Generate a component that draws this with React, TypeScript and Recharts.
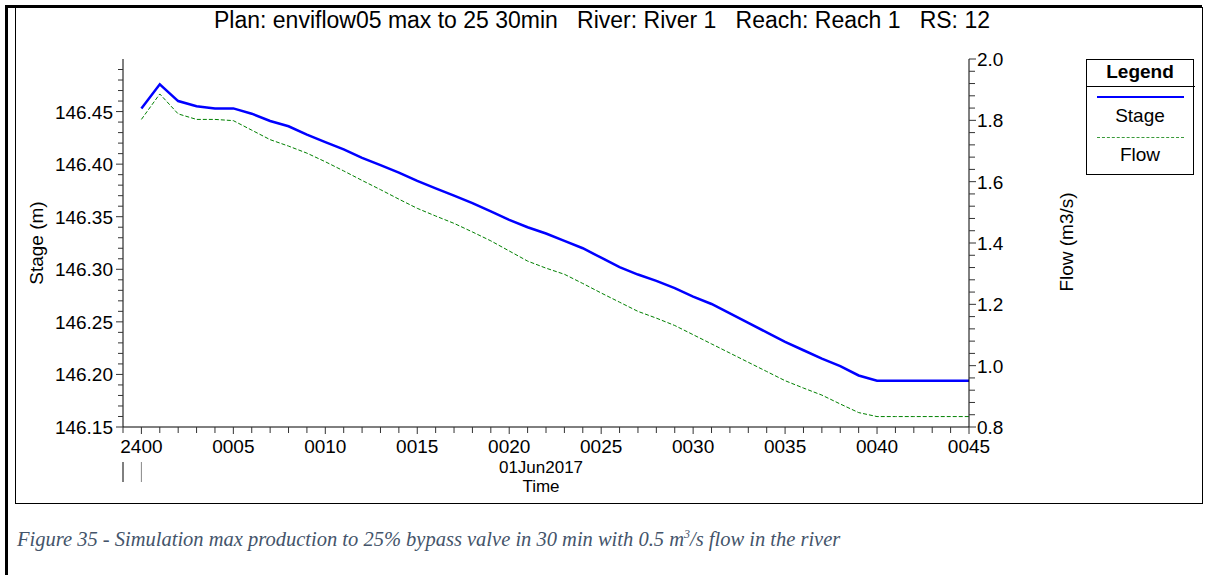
import React from "react";
import { LineChart, Line, XAxis, YAxis } from "recharts";

// time labels, one per minute, from 2400 to 0045
const times = [
  "2400", "0001", "0002", "0003", "0004", "0005", "0006", "0007", "0008", "0009",
  "0010", "0011", "0012", "0013", "0014", "0015", "0016", "0017", "0018", "0019",
  "0020", "0021", "0022", "0023", "0024", "0025", "0026", "0027", "0028", "0029",
  "0030", "0031", "0032", "0033", "0034", "0035", "0036", "0037", "0038", "0039",
  "0040", "0041", "0042", "0043", "0044", "0045",
];

const stage = [
  146.453, 146.476, 146.46, 146.455, 146.453, 146.453, 146.448, 146.441, 146.436, 146.428,
  146.421, 146.414, 146.406, 146.399, 146.392, 146.384, 146.377, 146.37, 146.363, 146.355,
  146.347, 146.34, 146.334, 146.327, 146.32, 146.311, 146.302, 146.295, 146.289, 146.282,
  146.274, 146.267, 146.258, 146.249, 146.24, 146.231, 146.223, 146.215, 146.208, 146.199,
  146.194, 146.194, 146.194, 146.194, 146.194, 146.194,
];

const flow = [
  1.803, 1.886, 1.821, 1.803, 1.803, 1.799, 1.768, 1.737, 1.716, 1.693,
  1.665, 1.635, 1.604, 1.574, 1.543, 1.513, 1.488, 1.464, 1.436, 1.407,
  1.374, 1.341, 1.318, 1.298, 1.268, 1.237, 1.207, 1.177, 1.155, 1.131,
  1.101, 1.071, 1.041, 1.011, 0.981, 0.951, 0.927, 0.904, 0.875, 0.847,
  0.834, 0.834, 0.834, 0.834, 0.834, 0.834,
];

const xTickLabels = ["2400", "0005", "0010", "0015", "0020", "0025", "0030", "0035", "0040", "0045"];
const stageTickLabels = ["146.15", "146.20", "146.25", "146.30", "146.35", "146.40", "146.45"];
const flowTickLabels = ["0.8", "1.0", "1.2", "1.4", "1.6", "1.8", "2.0"];

const data = times.map((t, i) => ({ i, t, stage: stage[i], flow: flow[i] }));

const FONT = "'Liberation Sans', Arial, sans-serif";

// minor ticks: every minute, every 0.01 m, every 0.04 m3/s
const xTicks: number[] = [];
for (let m = -1; m <= 45; m++) xTicks.push(m);
const leftTicks: number[] = [];
for (let k = 0; k < 35; k++) leftTicks.push(Math.round((146.15 + k * 0.01) * 100) / 100);
const rightTicks: number[] = [];
for (let k = 0; k <= 30; k++) rightTicks.push(Math.round((0.8 + k * 0.04) * 100) / 100);

const XTick = (props: any) => {
  const { x, y, payload } = props;
  const v = payload.value as number;
  const idx = xTickLabels.indexOf(times[v]);
  const major = v >= 0 && idx >= 0;
  return (
    <g>
      <line x1={x} x2={x} y1={y} y2={y + (major ? 7 : 6)} stroke="#333" />
      {major && (
        <text x={x} y={y + 26} textAnchor="middle" fontFamily={FONT} fontSize={19} fill="#000">
          {xTickLabels[idx]}
        </text>
      )}
      {v === -1 && <line x1={x} x2={x} y1={y + 35} y2={y + 55} stroke="#000" />}
      {v === 0 && <line x1={x} x2={x} y1={y + 35} y2={y + 55} stroke="#888" />}
    </g>
  );
};

const LeftTick = (props: any) => {
  const { x, y, payload } = props;
  const v = payload.value as number;
  const label = stageTickLabels.find((s) => Math.abs(parseFloat(s) - v) < 1e-6);
  return (
    <g>
      <line x1={x - (label ? 7 : 5)} x2={x} y1={y} y2={y} stroke="#333" />
      {label && (
        <text x={x - 10} y={y + 7} textAnchor="end" fontFamily={FONT} fontSize={19} fill="#000">
          {label}
        </text>
      )}
    </g>
  );
};

const RightTick = (props: any) => {
  const { x, y, payload } = props;
  const v = payload.value as number;
  const label = flowTickLabels.find((s) => Math.abs(parseFloat(s) - v) < 1e-6);
  return (
    <g>
      <line x1={x} x2={x + (label ? 7 : 6)} y1={y} y2={y} stroke="#333" />
      {label && (
        <text x={x + 8} y={y + 7} textAnchor="start" fontFamily={FONT} fontSize={19} fill="#000">
          {label}
        </text>
      )}
    </g>
  );
};

const abs = (s: React.CSSProperties): React.CSSProperties => ({ position: "absolute", ...s });

export default function App() {
  return (
    <div style={abs({ left: 0, top: 0, width: 1210, height: 575, background: "#fff", fontFamily: FONT })}>
      {/* frames */}
      <div style={abs({ left: 5, top: 5, width: 1197, height: 3, background: "#000" })} />
      <div style={abs({ left: 5, top: 5, width: 3, height: 570, background: "#000" })} />
      <div
        style={abs({
          left: 15,
          top: 7,
          width: 1186,
          height: 496,
          borderLeft: "1px solid #000",
          borderRight: "1px solid #000",
          borderBottom: "1px solid #000",
        })}
      />

      <div style={abs({ left: 0, top: 0 })}>
        <LineChart width={1210} height={575} data={data} margin={{ top: 59, left: 63, right: 181, bottom: 108 }}>
          <XAxis
            dataKey="i"
            type="number"
            domain={[-1, 45]}
            ticks={xTicks}
            interval={0}
            tickSize={0}
            tickMargin={0}
            tick={XTick}
            height={40}
            stroke="#000"
          />
          <YAxis
            yAxisId="left"
            orientation="left"
            type="number"
            domain={[146.15, 146.5]}
            ticks={leftTicks}
            interval={0}
            tickSize={0}
            tickMargin={0}
            tick={LeftTick}
            width={60}
            stroke="#000"
            allowDataOverflow
          />
          <YAxis
            yAxisId="right"
            orientation="right"
            type="number"
            domain={[0.8, 2.0]}
            ticks={rightTicks}
            interval={0}
            tickSize={0}
            tickMargin={0}
            tick={RightTick}
            width={60}
            stroke="#000"
            allowDataOverflow
          />
          <Line
            yAxisId="left"
            type="linear"
            dataKey="stage"
            stroke="#0000ff"
            strokeWidth={2.5}
            dot={false}
            isAnimationActive={false}
          />
          <Line
            yAxisId="right"
            type="linear"
            dataKey="flow"
            stroke="#008000"
            strokeWidth={1}
            strokeDasharray="4 2"
            dot={false}
            isAnimationActive={false}
          />
        </LineChart>
      </div>

      {/* title */}
      <div
        style={abs({
          left: 0,
          width: 1204,
          top: 7,
          textAlign: "center",
          fontSize: 23,
          whiteSpace: "pre",
          lineHeight: "26px",
        })}
      >
        {"Plan: enviflow05 max to 25 30min   River: River 1   Reach: Reach 1   RS: 12"}
      </div>

      {/* axis titles */}
      <div
        style={abs({
          left: 37,
          top: 243,
          fontSize: 19,
          whiteSpace: "nowrap",
          transform: "translate(-50%, -50%) rotate(-90deg)",
        })}
      >
        Stage (m)
      </div>
      <div
        style={abs({
          left: 1067,
          top: 242,
          fontSize: 19,
          whiteSpace: "nowrap",
          transform: "translate(-50%, -50%) rotate(-90deg)",
        })}
      >
        Flow (m3/s)
      </div>
      <div style={abs({ left: 441, width: 200, top: 458, textAlign: "center", fontSize: 17, lineHeight: "19px" })}>
        01Jun2017
      </div>
      <div style={abs({ left: 441, width: 200, top: 477, textAlign: "center", fontSize: 17, lineHeight: "19px" })}>
        Time
      </div>

      {/* legend */}
      <div style={abs({ left: 1086, top: 59, width: 106, height: 114, border: "1px solid #000" })} />
      <div style={abs({ left: 1086, top: 59, width: 108, height: 27, textAlign: "center", fontSize: 19, fontWeight: "bold", lineHeight: "26px" })}>
        Legend
      </div>
      <div style={abs({ left: 1086, top: 86, width: 109, height: 1, background: "#000" })} />
      <div style={abs({ left: 1097, top: 96, width: 87, height: 2, background: "#0000ff" })} />
      <div style={abs({ left: 1086, top: 104, width: 108, textAlign: "center", fontSize: 19, lineHeight: "24px" })}>
        Stage
      </div>
      <div style={abs({ left: 1097, top: 137, width: 87, height: 0, borderTop: "1px dashed #3a9a3a" })} />
      <div style={abs({ left: 1086, top: 143, width: 108, textAlign: "center", fontSize: 19, lineHeight: "24px" })}>
        Flow
      </div>

      {/* caption */}
      <div
        style={abs({
          left: 17,
          top: 521,
          fontFamily: "'Liberation Serif', 'Times New Roman', serif",
          fontStyle: "italic",
          fontSize: 20.5,
          color: "#44546a",
          whiteSpace: "nowrap",
          lineHeight: "26px",
        })}
      >
        Figure 35 - Simulation max production to 25% bypass valve in 30 min with 0.5 m<sup style={{ fontSize: 12 }}>3</sup>/s flow in the river
      </div>
    </div>
  );
}
